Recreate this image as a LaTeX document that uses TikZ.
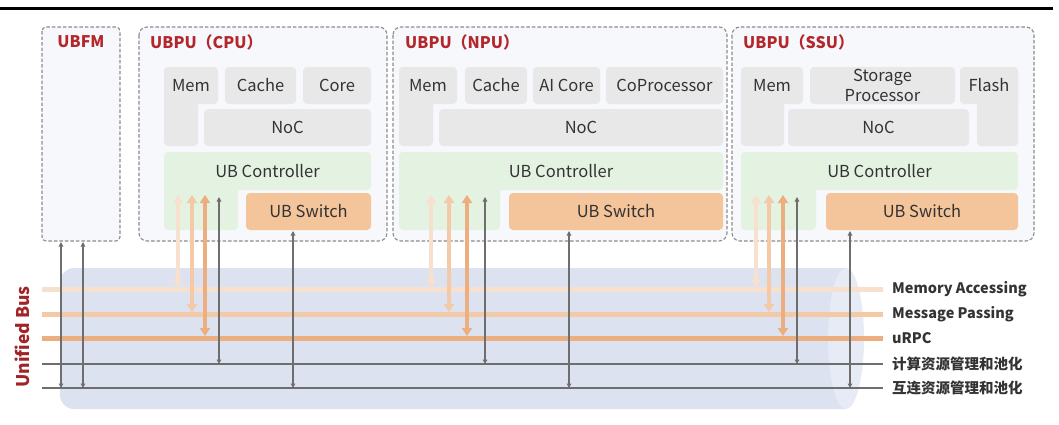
\documentclass[tikz,border=0pt]{standalone}
\usepackage{fontspec}
\setmainfont{Noto Sans CJK SC}
\usetikzlibrary{arrows.meta}
\definecolor{boxfill}{HTML}{F7F8FC}
\definecolor{boxline}{HTML}{8C8C8C}
\definecolor{blockgray}{HTML}{E8E8E8}
\definecolor{ctlgreen}{HTML}{E4F2E2}
\definecolor{swfill}{HTML}{F4C49A}
\definecolor{titlered}{HTML}{B3272C}
\definecolor{txt}{HTML}{333333}
\definecolor{cylbody}{HTML}{DCE2EF}
\definecolor{cylend}{HTML}{E7EBF5}
\definecolor{memacc}{HTML}{F8E0CE}
\definecolor{msgpass}{HTML}{F3C9A6}
\definecolor{urpc}{HTML}{ECAD7F}
\definecolor{mgmt}{HTML}{6E6E6E}
% block node given by its corners: style, name, x1, y1, x2, y2, text
\newcommand\pblock[7]{%
  \node[#1, minimum width={#5-#3}, minimum height={#6-#4}] (#2)
    at ({(#3+#5)/2},{(#4+#6)/2}) {#7};}
\begin{document}
\begin{tikzpicture}[x=1pt,y=-1pt,
  pubox/.style={draw=boxline, fill=boxfill, line width=1.1pt,
    dash pattern=on 3.5pt off 2pt, rounded corners=8pt},
  unit/.style={inner sep=0pt, outer sep=0pt, rounded corners=4pt,
    text=txt, font=\fontsize{16.5}{19}\selectfont},
  blk/.style={unit, fill=blockgray},
  ctl/.style={unit, fill=ctlgreen},
  sw/.style={unit, fill=swfill},
  ttl/.style={anchor=west, inner sep=0pt, text=titlered,
    font=\fontsize{16}{18}\selectfont\bfseries},
  busname/.style={anchor=west, inner sep=0pt, text=txt,
    font=\fontsize{14.5}{17}\selectfont\bfseries},
  bus/.style={line width=5pt},
  mline/.style={line width=1.4pt, draw=mgmt},
  fat/.style={line width=3.6pt, shorten >=2pt,
    {Triangle[width=10pt,length=8pt]}-{Triangle[width=10pt,length=8pt]}},
  slim/.style={line width=1.2pt, draw=mgmt,
    {Triangle[width=4.5pt,length=4.5pt]}-{Triangle[width=4.5pt,length=4.5pt]}}
]
\useasboundingbox (0,0) rectangle (1059,424);

% top rule
\draw[line width=3pt] (0,8) -- (1053,8);

% ---------- UBFM ----------
\draw[pubox, rounded corners=4pt] (42,27) rectangle (120,241);
\node[ttl, anchor=center] (ubfm) at (81,42) {UBFM};

% ---------- UBPU (CPU) ----------
\draw[pubox] (139,27) rectangle (387,241);
\node[ttl] (cpu-t) at (150,42) {UBPU（CPU）};
\fill[blockgray, rounded corners=4pt] (164,67) rectangle (198,146);
\pblock{blk}{cpu-mem}{164}{67}{218}{104}{Mem}
\pblock{blk}{cpu-cache}{225}{67}{296}{104}{Cache}
\pblock{blk}{cpu-core}{303}{67}{371}{104}{Core}
\pblock{blk}{cpu-noc}{204}{109}{371}{146}{NoC}
\fill[ctlgreen, rounded corners=4pt] (164,152) rectangle (238,230);
\pblock{ctl}{cpu-ctl}{164}{152}{371}{190}{UB Controller}
\pblock{sw}{cpu-sw}{246}{193}{371}{230}{UB Switch}

% ---------- UBPU (NPU) ----------
\draw[pubox] (393,27) rectangle (727,241);
\node[ttl] (npu-t) at (405,42) {UBPU（NPU）};
\fill[blockgray, rounded corners=4pt] (399,67) rectangle (433,146);
\pblock{blk}{npu-mem}{399}{67}{457}{104}{Mem}
\pblock{blk}{npu-cache}{465}{67}{527}{104}{Cache}
\pblock{blk}{npu-ai}{533}{67}{600}{104}{AI Core}
\pblock{blk}{npu-cop}{606}{67}{723}{104}{CoProcessor}
\pblock{blk}{npu-noc}{439}{109}{723}{146}{NoC}
\fill[ctlgreen, rounded corners=4pt] (399,152) rectangle (500,230);
\pblock{ctl}{npu-ctl}{399}{152}{723}{190}{UB Controller}
\pblock{sw}{npu-sw}{509}{193}{723}{230}{UB Switch}

% ---------- UBPU (SSU) ----------
\draw[pubox] (732,27) rectangle (1034,241);
\node[ttl] (ssu-t) at (743,42) {UBPU（SSU）};
\fill[blockgray, rounded corners=4pt] (741,67) rectangle (784,146);
\fill[blockgray, rounded corners=4pt] (977,67) rectangle (1018,146);
\pblock{blk}{ssu-mem}{741}{67}{803}{104}{Mem}
\pblock{blk, align=center, font=\fontsize{16.5}{20}\selectfont}{ssu-sp}{810}{67}{955}{104}{Storage\\Processor}
\pblock{blk}{ssu-flash}{960}{67}{1018}{104}{Flash}
\pblock{blk}{ssu-noc}{788}{109}{969}{146}{NoC}
\fill[ctlgreen, rounded corners=4pt] (741,152) rectangle (816,230);
\pblock{ctl}{ssu-ctl}{741}{152}{1018}{190}{UB Controller}
\pblock{sw}{ssu-sw}{826}{193}{1018}{230}{UB Switch}

% ---------- Unified Bus cylinder ----------
\fill[cylbody] (846,268) -- (74,268)
  arc[start angle=270, end angle=180, radius=14] -- (60,395)
  arc[start angle=180, end angle=90, radius=14] -- (846,409) -- cycle;
\fill[cylend] (846,338.5) ellipse [x radius=18, y radius=70.5];
\node[rotate=90, inner sep=0pt, text=titlered!90!black,
  font=\fontsize{17.5}{19}\selectfont\bfseries] (ub) at (22,337) {Unified Bus};

% bus channels
\coordinate (ma-l) at (42,289); \coordinate (ma-r) at (883,289);
\coordinate (mp-l) at (42,314); \coordinate (mp-r) at (883,314);
\coordinate (rp-l) at (42,338); \coordinate (rp-r) at (883,338);
\coordinate (cm-l) at (42,364); \coordinate (cm-r) at (883,364);
\coordinate (im-l) at (42,388); \coordinate (im-r) at (883,388);
\draw[bus, memacc] (ma-l) -- (ma-r);
\draw[bus, msgpass] (mp-l) -- (mp-r);
\draw[bus, urpc] (rp-l) -- (rp-r);
\draw[mline] (cm-l) -- (cm-r);
\draw[mline] (im-l) -- (im-r);
\node[busname] (ma-n) at (892,289) {Memory Accessing};
\node[busname] (mp-n) at (892,314) {Message Passing};
\node[busname] (rp-n) at (892,338) {uRPC};
\node[busname] (cm-n) at (892,364) {计算资源管理和池化};
\node[busname] (im-n) at (892,388) {互连资源管理和池化};

% ---------- links from the units to the bus ----------
\coordinate (cpu-a1) at (178,195); \coordinate (cpu-a2) at (192,195);
\coordinate (cpu-a3) at (205,195); \coordinate (cpu-g)  at (219,197);
\coordinate (cpu-s)  at (293,231);
\coordinate (npu-a1) at (431,195); \coordinate (npu-a2) at (449,195);
\coordinate (npu-a3) at (467,195); \coordinate (npu-g)  at (485,197);
\coordinate (npu-s)  at (569,231);
\coordinate (ssu-a1) at (756,195); \coordinate (ssu-a2) at (769,195);
\coordinate (ssu-a3) at (783,195); \coordinate (ssu-g)  at (797,197);
\coordinate (ssu-s)  at (850,231);
\coordinate (fm-a1) at (61,242); \coordinate (fm-a2) at (83,242);

\foreach \u in {cpu,npu,ssu}{
  \draw[fat, memacc]  (\u-a1) -- (\u-a1 |- ma-l);
  \draw[fat, msgpass] (\u-a2) -- (\u-a2 |- mp-l);
  \draw[fat, urpc]    (\u-a3) -- (\u-a3 |- rp-l);
  \draw[slim] (\u-g) -- (\u-g |- cm-l);
  \draw[slim] (\u-s) -- (\u-s |- im-l);
}
\draw[slim] (fm-a1) -- (fm-a1 |- im-l);
\draw[slim] (fm-a2) -- (fm-a2 |- im-l);
\end{tikzpicture}
\end{document}
